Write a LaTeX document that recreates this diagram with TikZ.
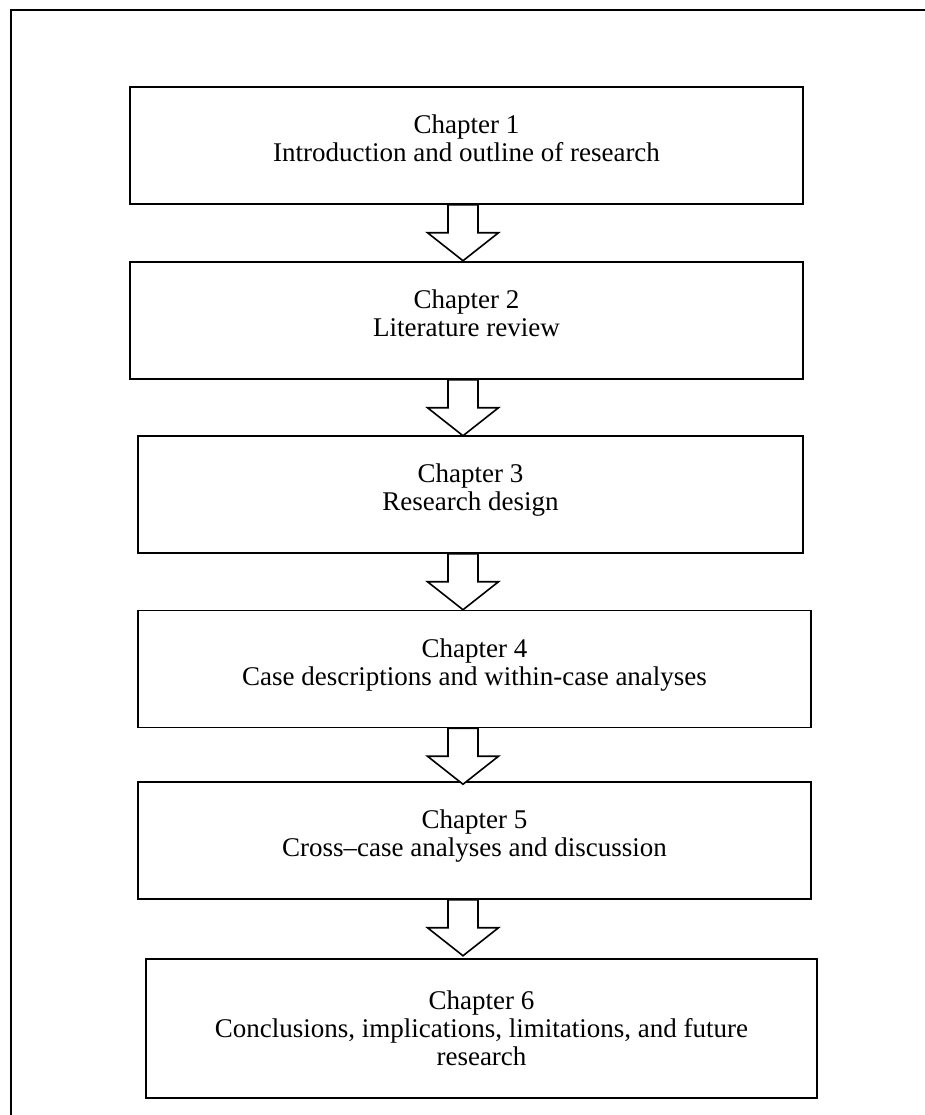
\documentclass[tikz,border=0pt]{standalone}
\usepackage{fontspec}
\setmainfont{Liberation Serif}
\begin{document}
\begin{tikzpicture}[x=1pt, y=1pt, line join=miter, font=\fontsize{27}{28}\selectfont]
	\tikzset{chapbox/.style={draw, line width=1.5pt, fill=white, rectangle, align=center, minimum height=117pt, inner sep=0pt, text depth=14pt},
		chaparrow/.style={draw, line width=1.6pt, fill=white}}
	\useasboundingbox (0,0) rectangle (924,1115);
	% frame (right and bottom sides fall outside the page)
	\draw[line width=1.1pt] (11,-10) -- (11,1105) -- (940,1105);
	\coordinate (axis) at (463,0);
	% chapters
	\node[chapbox, minimum width=673pt] (b1) at (466.5,969.5) {Chapter 1\\Introduction and outline of research};
	\node[chapbox, minimum width=673pt] (b2) at (466.5,794.5) {Chapter 2\\Literature review};
	\node[chapbox, minimum width=665pt] (b3) at (470.5,620.5) {Chapter 3\\Research design};
	\node[chapbox, minimum width=673pt] (b4) at (474.5,446) {Chapter 4\\Case descriptions and within-case analyses};
	\node[chapbox, minimum width=673pt] (b5) at (474.5,274.5) {Chapter 5\\Cross--case analyses and discussion};
	\node[chapbox, minimum width=671pt, minimum height=139pt, text depth=0pt] (b6) at (481.5,86.5) {Chapter 6\\Conclusions, implications, limitations, and future\\research};
	% block arrows between chapters
	\foreach \i in {1,...,5}
		\draw[chaparrow] (b\i.south -| axis) ++(-15,0) -- ++(0,-28) -- ++(-20.5,0) -- ++(35.5,-28) -- ++(35.5,28) -- ++(-20.5,0) -- ++(0,28) -- cycle;
\end{tikzpicture}
\end{document}
